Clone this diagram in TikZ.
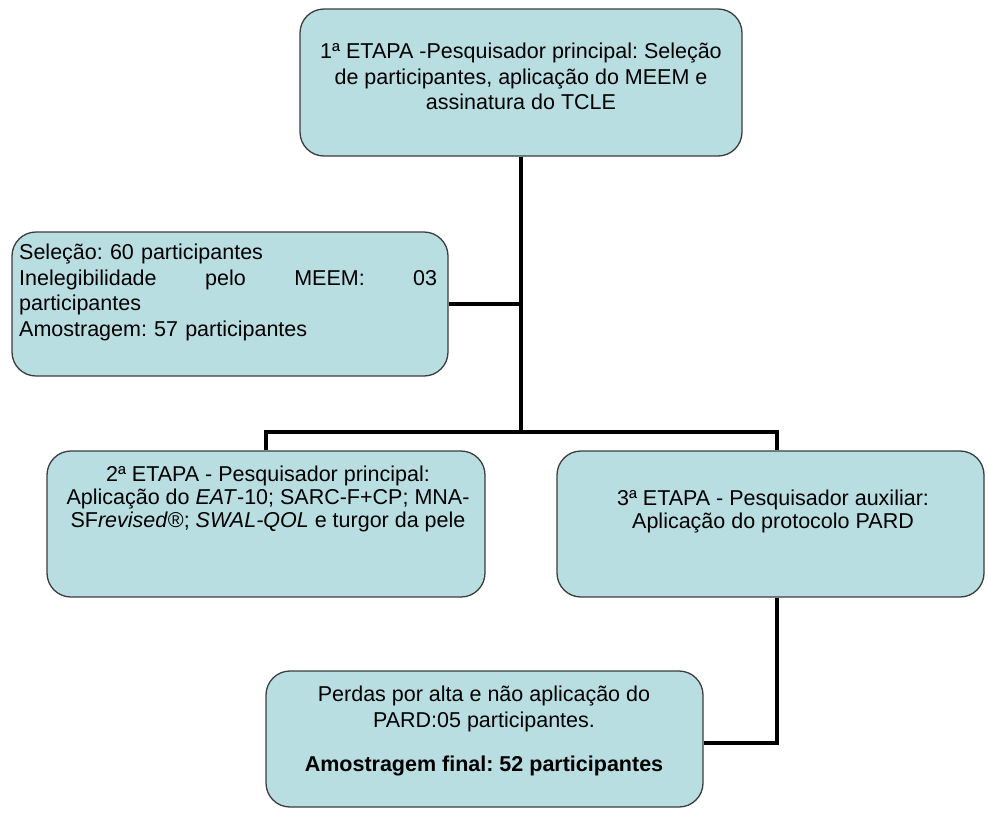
\documentclass[tikz,border=0pt]{standalone}
\usepackage{fontspec}
\setmainfont{Liberation Sans}
\frenchspacing
\definecolor{boxfill}{RGB}{184,222,226}
\definecolor{boxline}{RGB}{60,60,60}
\begin{document}
\frenchspacing
\begin{tikzpicture}[x=1pt,y=-1pt,
  box/.style={draw=boxline, line width=1.3pt, fill=boxfill, rounded corners=24pt, inner sep=0pt},
  txt/.style={inner sep=0pt, font=\fontsize{21.5}{25.5}\selectfont},
  txtb/.style={inner sep=0pt, font=\fontsize{21.5}{23}\selectfont},
  conn/.style={line width=4.5pt, line join=miter, draw=black}]
\useasboundingbox (0,0) rectangle (987,812);
% boxes
\node[box, minimum width=442pt, minimum height=147pt] (b1) at (521,82.5) {};
\node[box, minimum width=436pt, minimum height=144pt] (bl) at (230,304) {};
\node[box, minimum width=438pt, minimum height=146pt] (b2) at (266,524) {};
\node[box, minimum width=427pt, minimum height=146pt] (b3) at (770.5,524) {};
\node[box, minimum width=437pt, minimum height=136pt] (b5) at (484.5,739) {};
% texts
\node[txt, align=center, anchor=north] (t1) at (521,43)
  {1ª ETAPA -Pesquisador principal: Seleção\\de participantes, aplicação do MEEM e\\assinatura do TCLE};
\node[txt, align=left, text width=418pt, anchor=north west] (tl) at (19,244)
  {Seleção: 60 participantes\\Inelegibilidade\hfill pelo\hfill MEEM:\hfill 03\\participantes\\Amostragem: 57 participantes};
\node[txtb, align=center, anchor=north] (t2) at (268,466)
  {2ª ETAPA - Pesquisador principal:\\Aplicação do \textit{EAT}-10; SARC-F+CP; MNA-\\SF\textit{revised}®; \textit{SWAL-QOL} e turgor da pele};
\node[txtb, align=center, anchor=north] (t3) at (773,490)
  {3ª ETAPA - Pesquisador auxiliar:\\Aplicação do protocolo PARD};
\node[txt, align=center, anchor=north] (t5) at (484,686)
  {Perdas por alta e não aplicação do\\PARD:05 participantes.\\[19pt]\textbf{Amostragem final: 52 participantes}};
% connectors
\coordinate (busL) at (266,432);
\coordinate (busR) at (777,432);
\coordinate (jB) at (777,743);
\draw[conn] (b1.south) -- (b1.south |- busL);
\draw[conn] (b2.north) -- (busL) -- (busR) -- (busR |- b3.north);
\draw[conn, line width=3.5pt] (bl.east) -- (bl.east -| b1.south);
\draw[conn] (busR |- b3.south) -- (jB) -- (jB -| b5.east);
\end{tikzpicture}
\end{document}
